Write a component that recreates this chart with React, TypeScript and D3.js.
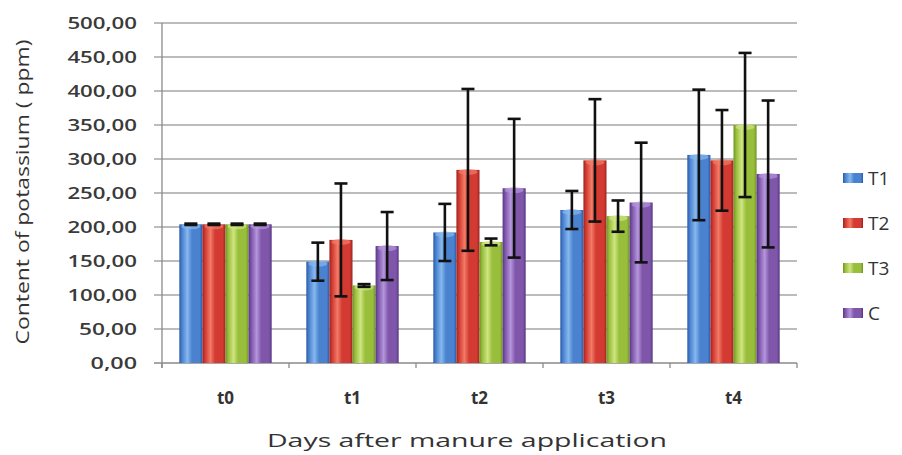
import React from "react";
import * as d3 from "d3";

const categories = ["t0", "t1", "t2", "t3", "t4"];
const seriesNames = ["T1", "T2", "T3", "C"];
const valuesT1 = [204, 149, 192, 225, 306];
const valuesT2 = [204, 181, 284, 298, 298];
const valuesT3 = [204, 114, 178, 216, 350];
const valuesC = [204, 172, 257, 236, 278];
const errT1 = [1, 28, 42, 28, 96];
const errT2 = [1, 83, 119, 90, 74];
const errT3 = [1, 2, 5, 23, 106];
const errC = [1, 50, 102, 88, 108];
const yTicks = [0, 50, 100, 150, 200, 250, 300, 350, 400, 450, 500];
const yTickLabels = ["0,00", "50,00", "100,00", "150,00", "200,00", "250,00", "300,00", "350,00", "400,00", "450,00", "500,00"];

const seriesValues = [valuesT1, valuesT2, valuesT3, valuesC];
const seriesErrors = [errT1, errT2, errT3, errC];
const palette = [
  { dark: "#2a5aa8", base: "#4a82d0", light: "#86b8ee" },
  { dark: "#9e2420", base: "#d23a32", light: "#f27a66" },
  { dark: "#6f9424", base: "#98be3c", light: "#cfe680" },
  { dark: "#573884", base: "#7f56aa", light: "#b496dc" },
];

const W = 902;
const H = 455;
const plotLeft = 162;
const plotRight = 797;
const plotTop = 23;
const plotBottom = 363;

export default function App() {
  const x0 = d3.scaleBand<string>().domain(categories).range([plotLeft, plotRight]).paddingInner(1.5 / 5.5).paddingOuter(0.75 / 5.5);
  const x1 = d3.scaleBand<string>().domain(seriesNames).range([0, x0.bandwidth()]).padding(0);
  const y = d3.scaleLinear().domain([0, 500]).range([plotBottom, plotTop]);
  const bw = x1.bandwidth();
  const capW = 13;
  const font = "'Open Sans', 'DejaVu Sans', sans-serif";

  return (
    <svg width={W} height={H} style={{ position: "fixed", left: 0, top: 0, background: "#fff" }} xmlns="http://www.w3.org/2000/svg">
      <defs>
        {palette.map((p, i) => (
          <linearGradient key={i} id={`g${i}`} x1="0" x2="1" y1="0" y2="0">
            <stop offset="0%" stopColor={p.dark} />
            <stop offset="12%" stopColor={p.base} />
            <stop offset="35%" stopColor={p.light} />
            <stop offset="55%" stopColor={p.base} />
            <stop offset="88%" stopColor={p.base} />
            <stop offset="100%" stopColor={p.dark} />
          </linearGradient>
        ))}
      </defs>
      <rect x={0} y={0} width={W} height={H} fill="#fff" />
      {yTicks.map((t) => (
        <line key={t} x1={plotLeft - 8} x2={plotRight} y1={y(t)} y2={y(t)} stroke={t === 0 ? "#8a8a8a" : "#a6a6a6"} strokeWidth={1.3} />
      ))}
      <line x1={plotLeft} x2={plotLeft} y1={plotTop} y2={plotBottom + 5} stroke="#8a8a8a" strokeWidth={1.3} />
      {categories.map((c, i) => (
        <line key={c} x1={plotLeft + i * x0.step()} x2={plotLeft + i * x0.step()} y1={plotBottom} y2={plotBottom + 5} stroke="#8a8a8a" strokeWidth={1.3} />
      ))}
      <line x1={plotRight} x2={plotRight} y1={plotBottom} y2={plotBottom + 5} stroke="#8a8a8a" strokeWidth={1.3} />
      {yTicks.map((t, i) => (
        <text key={t} x={137} y={y(t)} dy="0.35em" textAnchor="end" fontFamily={font} fontSize={16} fontWeight={600} fill="#3a3a3a"
          textLength={yTickLabels[i].length * 11.6} lengthAdjust="spacingAndGlyphs">
          {yTickLabels[i]}
        </text>
      ))}
      {categories.map((c, ci) => (
        <g key={c} transform={`translate(${x0(c)},0)`}>
          {seriesNames.map((s, si) => {
            const v = seriesValues[si][ci];
            const bx = x1(s) as number;
            return (
              <g key={s}>
                <rect x={bx} y={y(v)} width={bw} height={plotBottom - y(v)} fill={`url(#g${si})`} />
                <ellipse cx={bx + bw / 2} cy={y(v) + 2} rx={bw / 2 - 2} ry={3} fill={palette[si].light} opacity={0.7} />
              </g>
            );
          })}
          {seriesNames.map((s, si) => {
            const v = seriesValues[si][ci];
            const e = seriesErrors[si][ci];
            const cx = (x1(s) as number) + bw / 2;
            return (
              <g key={s} stroke="#111" strokeWidth={2.6}>
                <line x1={cx} x2={cx} y1={y(v + e)} y2={y(v - e)} />
                <line x1={cx - capW / 2} x2={cx + capW / 2} y1={y(v + e)} y2={y(v + e)} />
                <line x1={cx - capW / 2} x2={cx + capW / 2} y1={y(v - e)} y2={y(v - e)} />
              </g>
            );
          })}
        </g>
      ))}
      {categories.map((c) => (
        <text key={c} x={(x0(c) as number) + x0.bandwidth() / 2} y={404} textAnchor="middle" fontFamily={font} fontSize={17} fontWeight={700} fill="#333">
          {c}
        </text>
      ))}
      <text x={467} y={447} textAnchor="middle" fontFamily={font} fontSize={19} fill="#333" textLength={400} lengthAdjust="spacingAndGlyphs">
        Days after manure application
      </text>
      <text transform="translate(29,192) rotate(-90)" textAnchor="middle" fontFamily={font} fontSize={18} fill="#333" textLength={305} lengthAdjust="spacingAndGlyphs">
        Content of potassium ( ppm)
      </text>
      {seriesNames.map((s, si) => (
        <g key={s} transform={`translate(843,${178 + si * 45})`}>
          <rect x={0} y={-5} width={20} height={10} fill={`url(#g${si})`} />
          <text x={25} y={0} dy="0.36em" fontFamily={font} fontSize={19} fill="#333">
            {s}
          </text>
        </g>
      ))}
    </svg>
  );
}
